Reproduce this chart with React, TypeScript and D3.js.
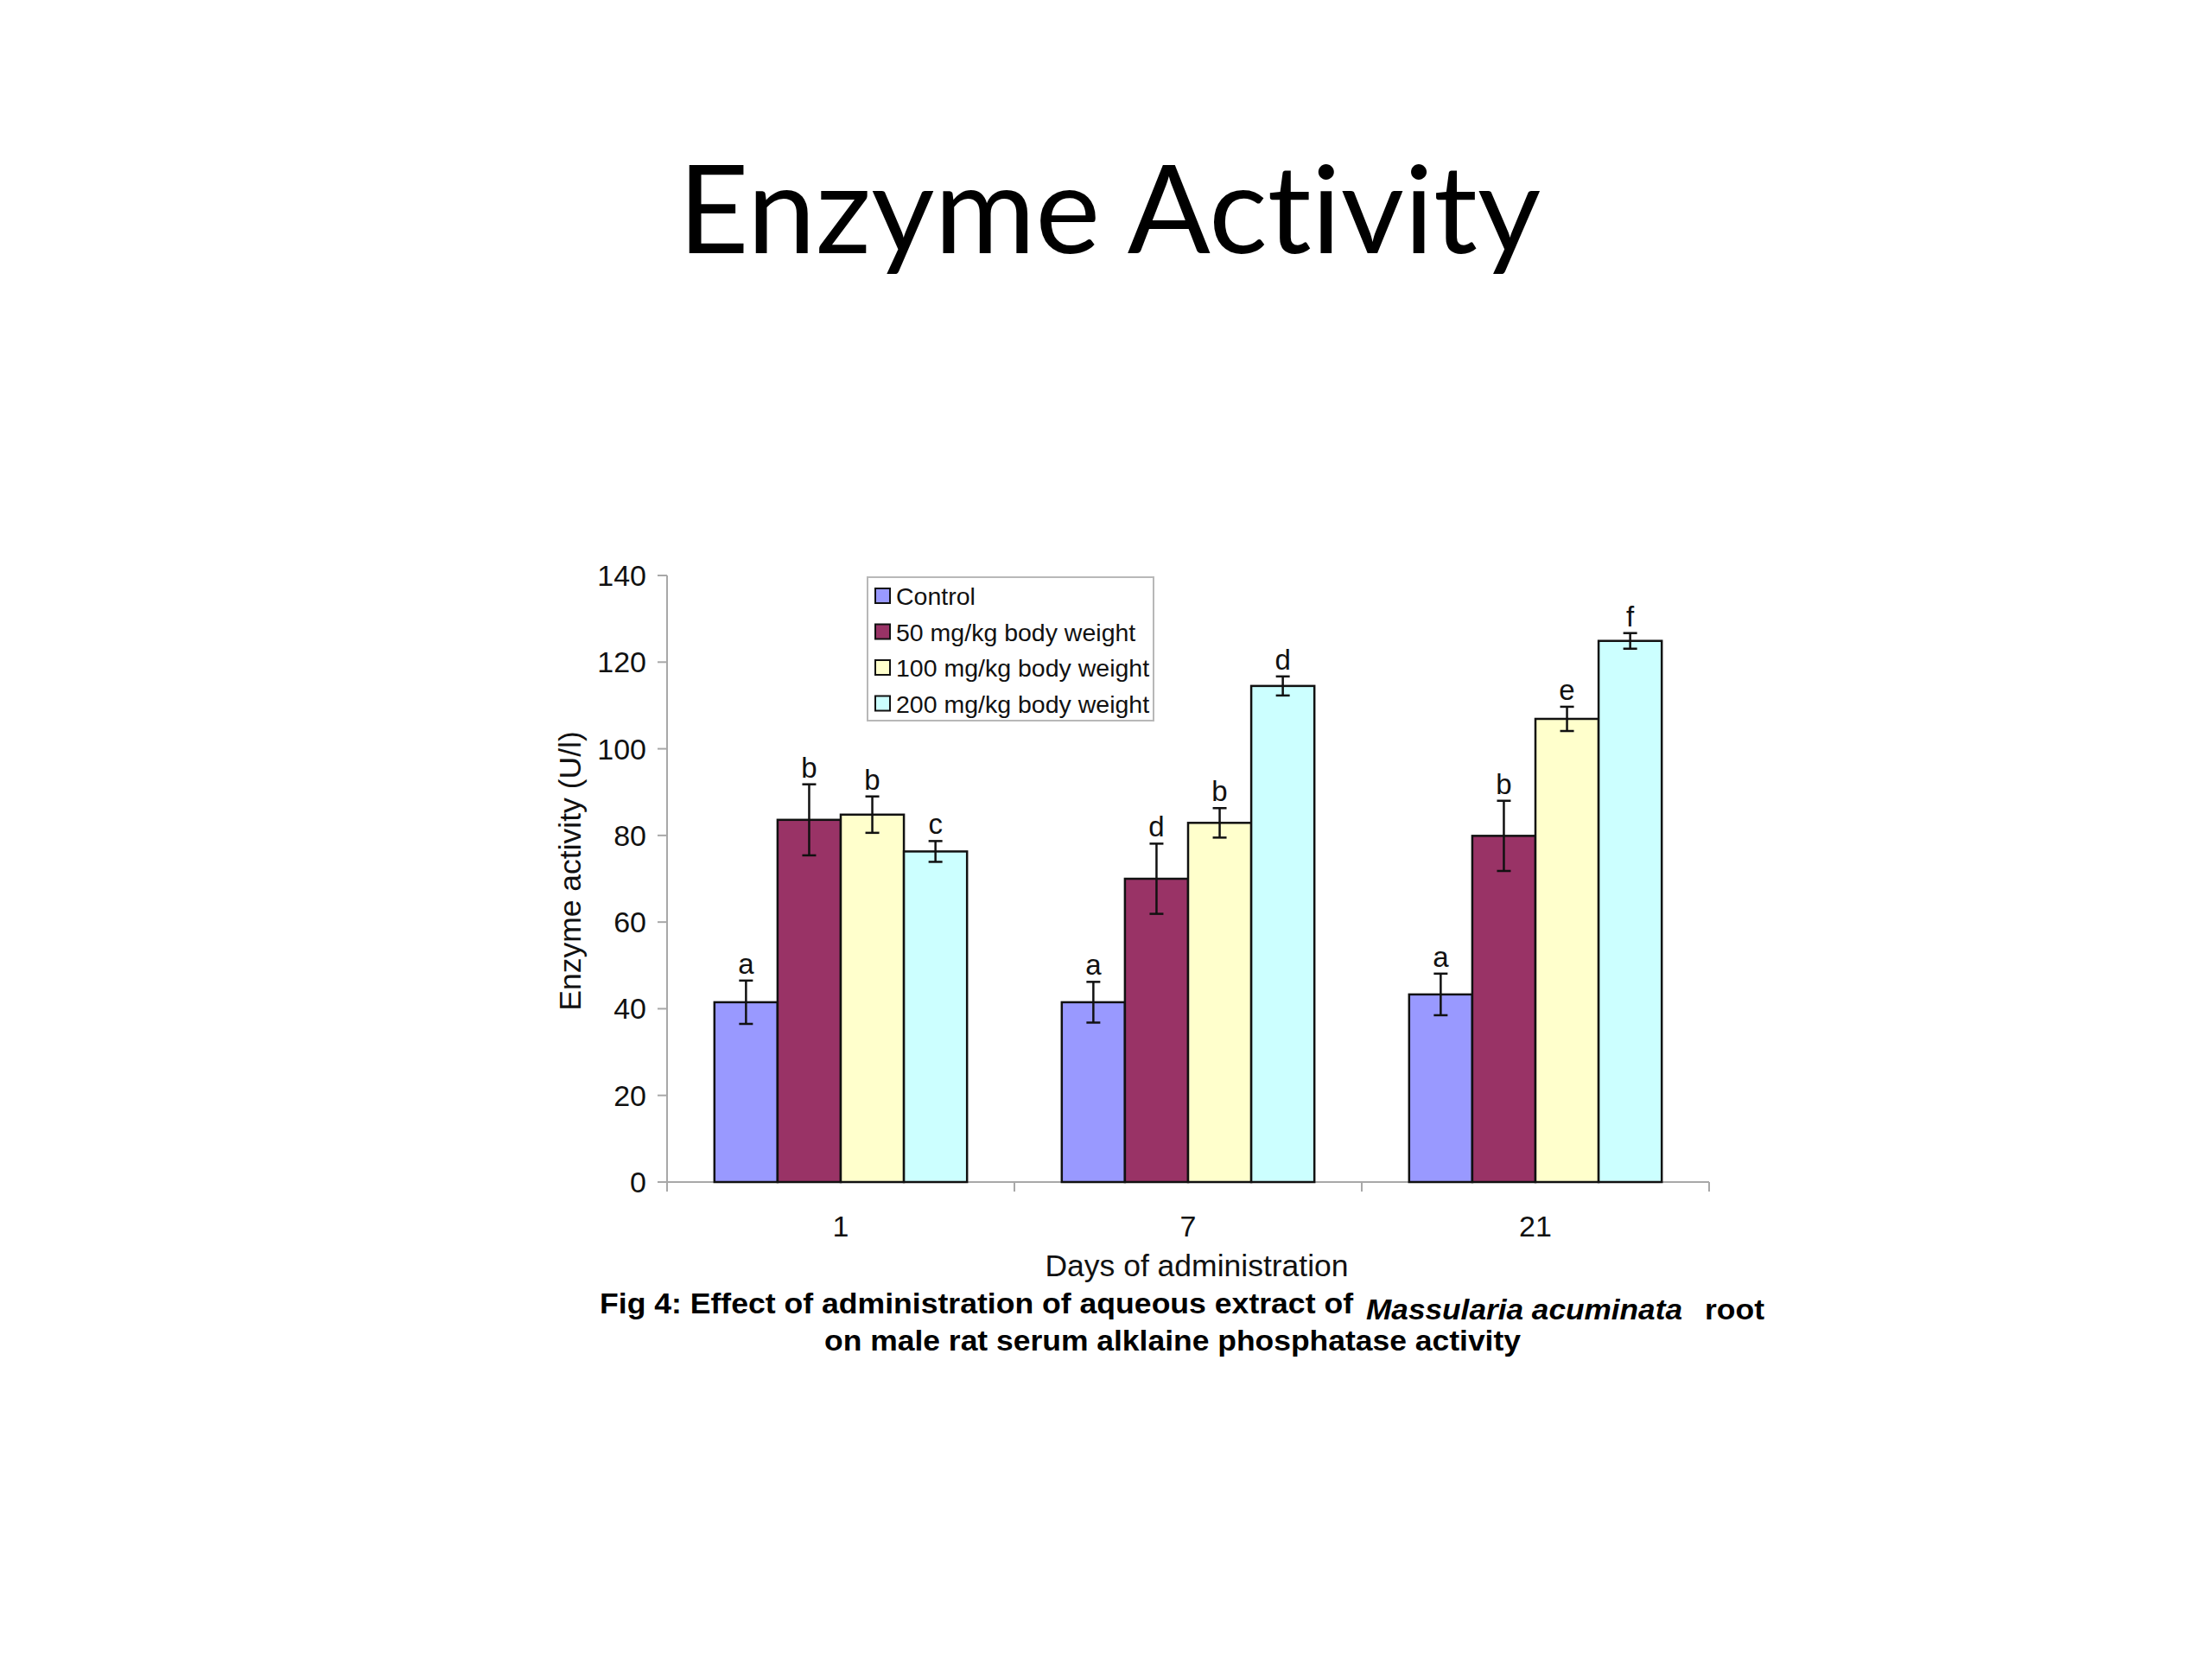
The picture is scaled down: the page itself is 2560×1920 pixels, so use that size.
import React from "react";
import * as d3 from "d3";

const days = ["1", "7", "21"];
const seriesNames = ["Control", "50 mg/kg body weight", "100 mg/kg body weight", "200 mg/kg body weight"];
const seriesColors = ["#9999FF", "#993366", "#FFFFCC", "#CCFFFF"];
const control = [41.5, 41.5, 43.3];
const dose50 = [83.6, 70.0, 79.9];
const dose100 = [84.8, 82.9, 106.9];
const dose200 = [76.3, 114.5, 124.9];
const err50 = [8.2, 8.1, 8.1];
const errControl = [5.0, 4.7, 4.8];
const err100 = [4.2, 3.4, 2.8];
const err200 = [2.4, 2.2, 1.8];
const letters = [
  ["a", "b", "b", "c"],
  ["a", "d", "b", "d"],
  ["a", "b", "e", "f"],
];
const yTicks = [0, 20, 40, 60, 80, 100, 120, 140];

const values = [control, dose50, dose100, dose200];
const errors = [errControl, err50, err100, err200];

export default function App() {
  const left = 772;
  const right = 1978;
  const top = 666;
  const bottom = 1368;

  const x0 = d3.scaleBand<string>().domain(days).range([left, right]).paddingInner(0).paddingOuter(0);
  const x1 = d3
    .scaleBand<string>()
    .domain(seriesNames)
    .range([0, x0.bandwidth()])
    .paddingInner(0)
    .paddingOuter(0.75);
  const y = d3.scaleLinear().domain([0, 140]).range([bottom, top]);

  const axisColor = "#a8a8a8";
  const font = "'Liberation Sans', Arial, sans-serif";

  return (
    <svg
      width={2560}
      height={1920}
      style={{ position: "absolute", left: 0, top: 0, background: "#fff" }}
      xmlns="http://www.w3.org/2000/svg"
    >
      <rect x={0} y={0} width={2560} height={1920} fill="#fff" />
      <text
        x={1284}
        y={293}
        textAnchor="middle"
        fontFamily="Lato, 'Open Sans', sans-serif"
        fontSize={142}
        fill="#000"
        style={{ fontVariantLigatures: "none", fontFeatureSettings: "'liga' 0" }}
      >
        Enzyme Activity
      </text>

      {/* y axis */}
      <line x1={left} x2={left} y1={top} y2={bottom} stroke={axisColor} strokeWidth={2} />
      {yTicks.map((t) => (
        <g key={t}>
          <line x1={left - 11} x2={left} y1={y(t)} y2={y(t)} stroke={axisColor} strokeWidth={2} />
          <text
            x={left - 24}
            y={y(t) + 12}
            textAnchor="end"
            fontFamily={font}
            fontSize={34}
            fill="#111"
          >
            {t}
          </text>
        </g>
      ))}

      {/* x axis */}
      <line x1={left} x2={right} y1={bottom} y2={bottom} stroke={axisColor} strokeWidth={2} />
      {days.map((d) => (
        <line
          key={"tk" + d}
          x1={x0(d)!}
          x2={x0(d)!}
          y1={bottom}
          y2={bottom + 11}
          stroke={axisColor}
          strokeWidth={2}
        />
      ))}
      <line x1={right} x2={right} y1={bottom} y2={bottom + 11} stroke={axisColor} strokeWidth={2} />

      {/* bars */}
      {days.map((d, i) => (
        <g key={"g" + d}>
          {seriesNames.map((s, j) => {
            const v = values[j][i];
            const e = errors[j][i];
            const bx = x0(d)! + x1(s)!;
            const bw = x1.bandwidth();
            const cx = bx + bw / 2;
            return (
              <g key={s}>
                <rect
                  x={bx}
                  y={y(v)}
                  width={bw}
                  height={y(0) - y(v)}
                  fill={seriesColors[j]}
                  stroke="#111"
                  strokeWidth={2.5}
                />
                <line x1={cx} x2={cx} y1={y(v + e)} y2={y(v - e)} stroke="#111" strokeWidth={2.5} />
                <line x1={cx - 8} x2={cx + 8} y1={y(v + e)} y2={y(v + e)} stroke="#111" strokeWidth={2.5} />
                <line x1={cx - 8} x2={cx + 8} y1={y(v - e)} y2={y(v - e)} stroke="#111" strokeWidth={2.5} />
                <text
                  x={cx}
                  y={y(v + e) - 8}
                  textAnchor="middle"
                  fontFamily={font}
                  fontSize={33}
                  fill="#111"
                >
                  {letters[i][j]}
                </text>
              </g>
            );
          })}
          <text
            x={x0(d)! + x0.bandwidth() / 2}
            y={1431}
            textAnchor="middle"
            fontFamily={font}
            fontSize={34}
            fill="#111"
          >
            {d}
          </text>
        </g>
      ))}

      {/* legend */}
      <rect x={1004} y={668} width={331} height={166} fill="#fff" stroke="#b8b8b8" strokeWidth={2} />
      {seriesNames.map((s, j) => (
        <g key={"lg" + s}>
          <rect
            x={1013}
            y={681 + j * 41.5}
            width={17}
            height={17}
            fill={seriesColors[j]}
            stroke="#111"
            strokeWidth={2}
          />
          <text x={1037} y={700 + j * 41.5} fontFamily={font} fontSize={28.5} fill="#111">
            {s}
          </text>
        </g>
      ))}

      {/* axis titles */}
      <text
        transform={`translate(672, ${(top + bottom) / 2 - 9}) rotate(-90)`}
        textAnchor="middle"
        fontFamily={font}
        fontSize={35.5}
        fill="#111"
      >
        Enzyme activity (U/l)
      </text>
      <text x={1385} y={1477} textAnchor="middle" fontFamily={font} fontSize={35.5} fill="#111">
        Days of administration
      </text>

      {/* caption */}
      <text
        x={694}
        y={1520}
        fontFamily={font}
        fontSize={34}
        fontWeight="bold"
        fill="#000"
        textLength={872}
        lengthAdjust="spacingAndGlyphs"
      >
        Fig 4: Effect of administration of aqueous extract of
      </text>
      <text
        x={1581}
        y={1527}
        fontFamily={font}
        fontSize={34}
        fontWeight="bold"
        fontStyle="italic"
        fill="#000"
        textLength={366}
        lengthAdjust="spacingAndGlyphs"
      >
        Massularia acuminata
      </text>
      <text
        x={1973}
        y={1527}
        fontFamily={font}
        fontSize={34}
        fontWeight="bold"
        fill="#000"
        textLength={69}
        lengthAdjust="spacingAndGlyphs"
      >
        root
      </text>
      <text
        x={1357}
        y={1563}
        textAnchor="middle"
        fontFamily={font}
        fontSize={34}
        fontWeight="bold"
        fill="#000"
        textLength={806}
        lengthAdjust="spacingAndGlyphs"
      >
        on male rat serum alklaine phosphatase activity
      </text>
    </svg>
  );
}
